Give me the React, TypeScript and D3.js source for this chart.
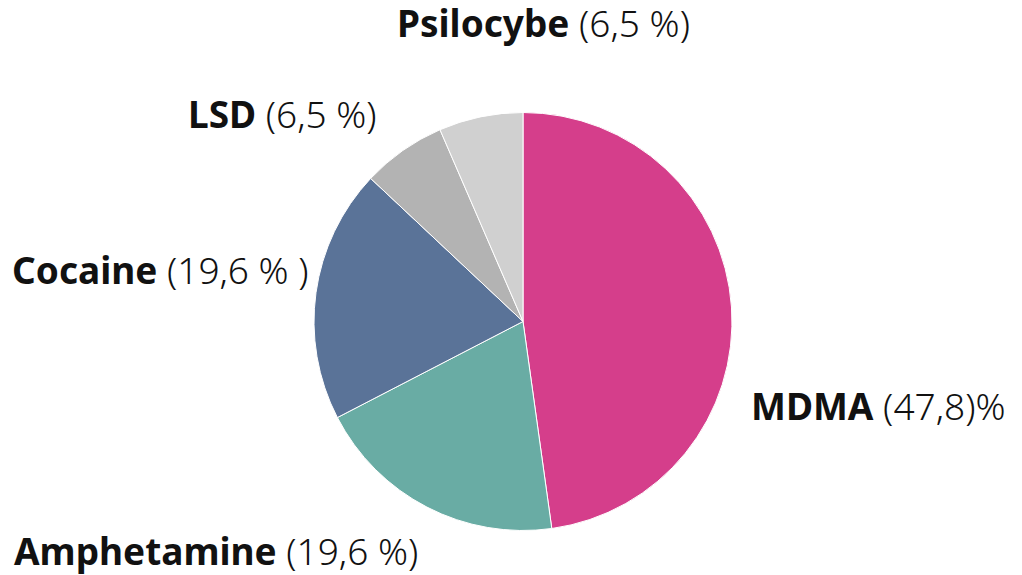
import React from "react";
import * as d3 from "d3";

const categories = ["MDMA", "Amphetamine", "Cocaine", "LSD", "Psilocybe"];
const values = [47.8, 19.6, 19.6, 6.5, 6.5];
const valueLabels = ["(47,8)%", "(19,6 %)", "(19,6 % )", "(6,5 %)", "(6,5 %)"];
const colors = ["#d53e8b", "#69aca4", "#5a7398", "#b3b3b3", "#d0d0d0"];
// label anchor positions (left x, baseline y)
const labelPos: [number, number][] = [
  [751, 420],
  [14, 565],
  [12, 284],
  [188, 128],
  [397, 37],
];

const W = 1022;
const H = 575;
const cx = 523;
const cy = 321.5;
const R = 209;

export default function App() {
  const pie = d3.pie<number>().sort(null).value((d) => d);
  const arcs = pie(values);
  const arc = d3.arc<d3.PieArcDatum<number>>().innerRadius(0).outerRadius(R);
  const font = "'Noto Sans', sans-serif";
  return (
    <svg
      width={W}
      height={H}
      style={{ position: "absolute", left: 0, top: 0, background: "#fff" }}
    >
      <g transform={`translate(${cx},${cy})`}>
        {arcs.map((a, i) => (
          <path key={i} d={arc(a) || ""} fill={colors[i]} stroke="#fff" strokeWidth={1} />
        ))}
      </g>
      {categories.map((c, i) => (
        <text
          key={c}
          x={labelPos[i][0]}
          y={labelPos[i][1]}
          fontFamily={font}
          fontSize={37}
          fill="#111"
        >
          <tspan fontWeight={700}>{c}</tspan>
          <tspan fontWeight={300}>{" " + valueLabels[i]}</tspan>
        </text>
      ))}
    </svg>
  );
}
